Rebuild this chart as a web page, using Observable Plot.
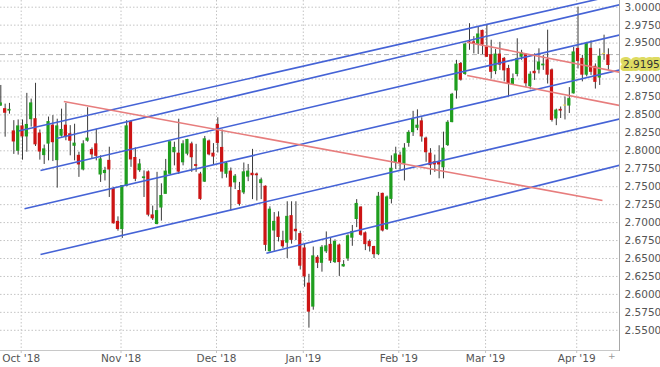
<!DOCTYPE html>
<html><head><meta charset="utf-8">
<script src="https://cdn.jsdelivr.net/npm/d3@7"></script>
<script src="https://cdn.jsdelivr.net/npm/@observablehq/plot@0.6"></script>
<style>body{margin:0;background:#fff;}#chart{width:660px;height:367px;overflow:hidden;}</style>
</head><body><div id="chart"></div>
<script>
// ---- data (daily candles, first trading day 2018-09-24) ----
const firstDay = "2018-09-24";
const holidays = ["2018-12-25", "2019-01-01"];
const open = [2.863,2.858,2.856,2.827,2.800,2.834,2.820,2.844,2.844,2.824,
2.794,2.810,2.835,2.787,2.821,2.835,2.823,2.807,2.793,2.774,
2.814,2.801,2.809,2.767,2.769,2.786,2.747,2.701,2.691,2.751,
2.840,2.790,2.773,2.762,2.770,2.710,2.698,2.721,2.740,2.768,
2.798,2.796,2.784,2.796,2.809,2.780,2.767,2.757,2.813,2.796,
2.836,2.804,2.768,2.771,2.756,2.744,2.742,2.764,2.768,2.767,
2.755,2.750,2.660,2.689,2.707,2.674,2.672,2.709,2.690,2.684,
2.664,2.615,2.583,2.651,2.644,2.660,2.669,2.645,2.668,2.639,
2.650,2.679,2.705,2.721,2.685,2.673,2.666,2.656,2.740,2.691,
2.733,2.784,2.793,2.782,2.811,2.826,2.832,2.841,2.817,2.796,
2.784,2.783,2.777,2.808,2.840,2.884,2.921,2.907,2.951,2.951,
2.949,2.967,2.944,2.933,2.911,2.934,2.928,2.914,2.893,2.907,
2.931,2.933,2.890,2.910,2.913,2.919,2.926,2.912,2.845,2.857,
2.863,2.863,2.880,2.942,2.928,2.906,2.942,2.917,2.902,2.935,2.933];
const high = [2.891,2.865,2.866,2.842,2.843,2.843,2.880,2.872,2.894,2.829,
2.808,2.847,2.849,2.844,2.858,2.866,2.835,2.837,2.798,2.814,
2.860,2.804,2.830,2.793,2.777,2.805,2.749,2.708,2.751,2.842,
2.842,2.804,2.788,2.772,2.772,2.723,2.770,2.754,2.788,2.812,
2.812,2.844,2.814,2.816,2.812,2.809,2.770,2.820,2.815,2.810,
2.846,2.829,2.785,2.776,2.767,2.756,2.783,2.781,2.802,2.769,
2.762,2.751,2.722,2.714,2.715,2.688,2.729,2.729,2.729,2.688,
2.670,2.628,2.666,2.654,2.668,2.687,2.678,2.676,2.670,2.647,
2.683,2.696,2.732,2.722,2.687,2.676,2.667,2.742,2.741,2.737,
2.793,2.805,2.798,2.810,2.828,2.855,2.857,2.846,2.819,2.803,
2.794,2.807,2.826,2.842,2.880,2.926,2.923,2.950,2.977,2.959,
2.972,2.968,2.975,2.954,2.941,2.951,2.930,2.919,2.907,2.956,
2.940,2.935,2.910,2.935,2.942,2.933,2.968,2.914,2.858,2.861,
2.875,2.888,2.944,3.000,2.933,2.951,2.953,2.921,2.942,2.961,2.942];
const low = [2.862,2.819,2.851,2.795,2.794,2.787,2.798,2.833,2.806,2.787,
2.781,2.786,2.785,2.748,2.819,2.814,2.793,2.786,2.763,2.772,
2.812,2.788,2.786,2.756,2.758,2.735,2.698,2.688,2.678,2.750,
2.777,2.757,2.770,2.735,2.708,2.703,2.697,2.702,2.740,2.767,
2.779,2.767,2.779,2.793,2.770,2.770,2.731,2.756,2.793,2.780,
2.797,2.761,2.762,2.716,2.746,2.723,2.739,2.757,2.732,2.730,
2.732,2.660,2.659,2.660,2.673,2.664,2.650,2.670,2.675,2.634,
2.610,2.553,2.578,2.636,2.631,2.657,2.643,2.643,2.625,2.638,
2.646,2.667,2.693,2.681,2.661,2.659,2.650,2.654,2.687,2.689,
2.726,2.774,2.773,2.758,2.805,2.820,2.828,2.812,2.784,2.766,
2.770,2.761,2.761,2.806,2.839,2.872,2.897,2.905,2.940,2.935,
2.934,2.934,2.930,2.900,2.906,2.912,2.896,2.875,2.891,2.903,
2.926,2.888,2.885,2.898,2.907,2.912,2.893,2.840,2.835,2.845,
2.843,2.852,2.879,2.914,2.896,2.903,2.905,2.886,2.891,2.926,2.912];
const close = [2.866,2.853,2.857,2.813,2.834,2.820,2.836,2.866,2.809,2.799,
2.802,2.840,2.812,2.834,2.829,2.820,2.814,2.810,2.781,2.809,
2.817,2.795,2.793,2.788,2.772,2.774,2.699,2.691,2.751,2.834,
2.788,2.761,2.781,2.763,2.711,2.706,2.716,2.737,2.771,2.812,
2.804,2.771,2.809,2.815,2.791,2.779,2.733,2.816,2.795,2.792,
2.811,2.771,2.782,2.750,2.764,2.726,2.770,2.771,2.766,2.766,
2.759,2.669,2.718,2.701,2.680,2.667,2.708,2.676,2.688,2.640,
2.625,2.576,2.653,2.644,2.665,2.667,2.647,2.673,2.645,2.641,
2.681,2.687,2.726,2.683,2.670,2.667,2.656,2.736,2.689,2.735,
2.775,2.795,2.783,2.803,2.825,2.843,2.835,2.820,2.798,2.780,
2.781,2.781,2.803,2.839,2.878,2.920,2.899,2.948,2.950,2.950,
2.962,2.948,2.931,2.910,2.934,2.920,2.912,2.894,2.900,2.928,
2.936,2.894,2.906,2.908,2.923,2.920,2.906,2.843,2.856,2.856,
2.863,2.872,2.937,2.925,2.906,2.949,2.910,2.896,2.931,2.935,2.9195];

const monthTicks = ["2018-10-01","2018-11-01","2018-12-03","2019-01-02","2019-02-01","2019-03-01","2019-04-01"];
const monthLabels = ["Oct '18","Nov '18","Dec '18","Jan '19","Feb '19","Mar '19","Apr '19"];
const yTicks = [2.55,2.575,2.6,2.625,2.65,2.675,2.7,2.725,2.75,2.775,2.8,2.825,2.85,2.875,2.9,2.925,2.95,2.975,3.0];
const lastPrice = [2.9195];
const refLevel = [2.934];

// trend lines, in trading-day index (0 = first candle) and price
const trendKind = ["channel","channel","channel","channel","channel","channel","resistance","resistance","resistance"];
const trendX1 = [4.08, 12.83, 9.15, 5.46, 9.15, 61.2, 14.52, 107.46, 107.46];
const trendY1 = [2.8276, 2.8171, 2.7726, 2.7192, 2.6556, 2.6574, 2.8687, 2.9513, 2.9049];
const trendX2 = [142.56, 142.56, 142.56, 142.56, 142.56, 142.56, 138.64, 142.56, 142.56];
const trendY2 = [3.0180, 3.0035, 2.9613, 2.9125, 2.8443, 2.7798, 2.7308, 2.9095, 2.8631];

// ---- build tables ----
const n = open.length;
const days = [];
{
  const d = new Date(firstDay + "T00:00:00Z");
  while (days.length < n) {
    const dow = d.getUTCDay(), s = d.toISOString().slice(0, 10);
    if (dow !== 0 && dow !== 6 && !holidays.includes(s)) days.push(s);
    d.setUTCDate(d.getUTCDate() + 1);
  }
}
const candles = days.map((date, j) => ({j, date, open: open[j], high: high[j], low: low[j], close: close[j]}));
const tickPos = monthTicks.map(m => days.indexOf(m) - 0.3);
const labelAt = new Map(tickPos.map((p, k) => [p, monthLabels[k]]));
const trends = trendKind.map((k, t) => ({kind: k, x1: trendX1[t], y1: trendY1[t], x2: trendX2[t], y2: trendY2[t]}));
// the price label box hides the axis label it sits on
const yLabelTicks = yTicks.filter(v => Math.abs(v - lastPrice[0]) > 0.012);

const bodyColor = d => d.close > d.open ? "#1f9e1f" : d.close < d.open ? "#cc1414" : "#e4d84a";

const chart = Plot.plot({
  width: 660, height: 367,
  marginLeft: 0, marginRight: 41, marginTop: 0, marginBottom: 17,
  style: {fontFamily: "'DejaVu Sans', Verdana, sans-serif", fontSize: "10.5px", color: "#555", background: "#fff", overflow: "visible"},
  x: {domain: [-0.07, 142.56], axis: null},
  y: {domain: [2.52187, 3.00933], axis: null},
  marks: [
    Plot.ruleY(yTicks, {stroke: "#c4c4c4", strokeDasharray: "1.5,2"}),
    Plot.ruleX(tickPos, {stroke: "#c4c4c4", strokeDasharray: "1.5,2"}),
    Plot.ruleY(refLevel, {stroke: "#b0b0b0", strokeDasharray: "5,3"}),
    Plot.frame({anchor: "bottom", stroke: "#c8c8c8"}),
    Plot.frame({anchor: "right", stroke: "#a8a8a8"}),
    Plot.ruleX(candles, {x: "j", y1: "low", y2: "high", stroke: "#3a3a3a", strokeWidth: 1}),
    Plot.rect(candles, {
      x1: d => d.j - 0.37, x2: d => d.j + 0.37,
      y1: d => Math.min(d.open, d.close), y2: d => Math.max(d.open, d.close),
      fill: bodyColor, insetTop: -0.5, insetBottom: -0.5
    }),
    Plot.link(trends, {
      x1: "x1", y1: "y1", x2: "x2", y2: "y2", clip: true,
      stroke: d => d.kind === "channel" ? "#4563d6" : "#e77d7d",
      strokeWidth: 1.6
    }),
    Plot.axisY(yLabelTicks, {anchor: "right", tickSize: 0, tickPadding: 5, tickFormat: d => d.toFixed(4), fill: "#555"}),
    Plot.axisX(tickPos, {anchor: "bottom", tickSize: 3, tickPadding: 1.5, stroke: "#c4c4c4", tickFormat: d => labelAt.get(d), fill: "#555"}),
    Plot.text(lastPrice, {
      y: d => d, frameAnchor: "right", textAnchor: "start", dx: 3.5,
      text: d => d.toFixed(4), fill: "#333", fontSize: 10.5,
      stroke: "#dedb62", strokeWidth: 6, strokeLinejoin: "round", paintOrder: "stroke"
    }),
    Plot.text(["+"], {frameAnchor: "bottom-right", dx: -4, dy: 8, fill: "#999", fontSize: 9})
  ]
});
document.getElementById("chart").appendChild(chart);
</script>
</body></html>
